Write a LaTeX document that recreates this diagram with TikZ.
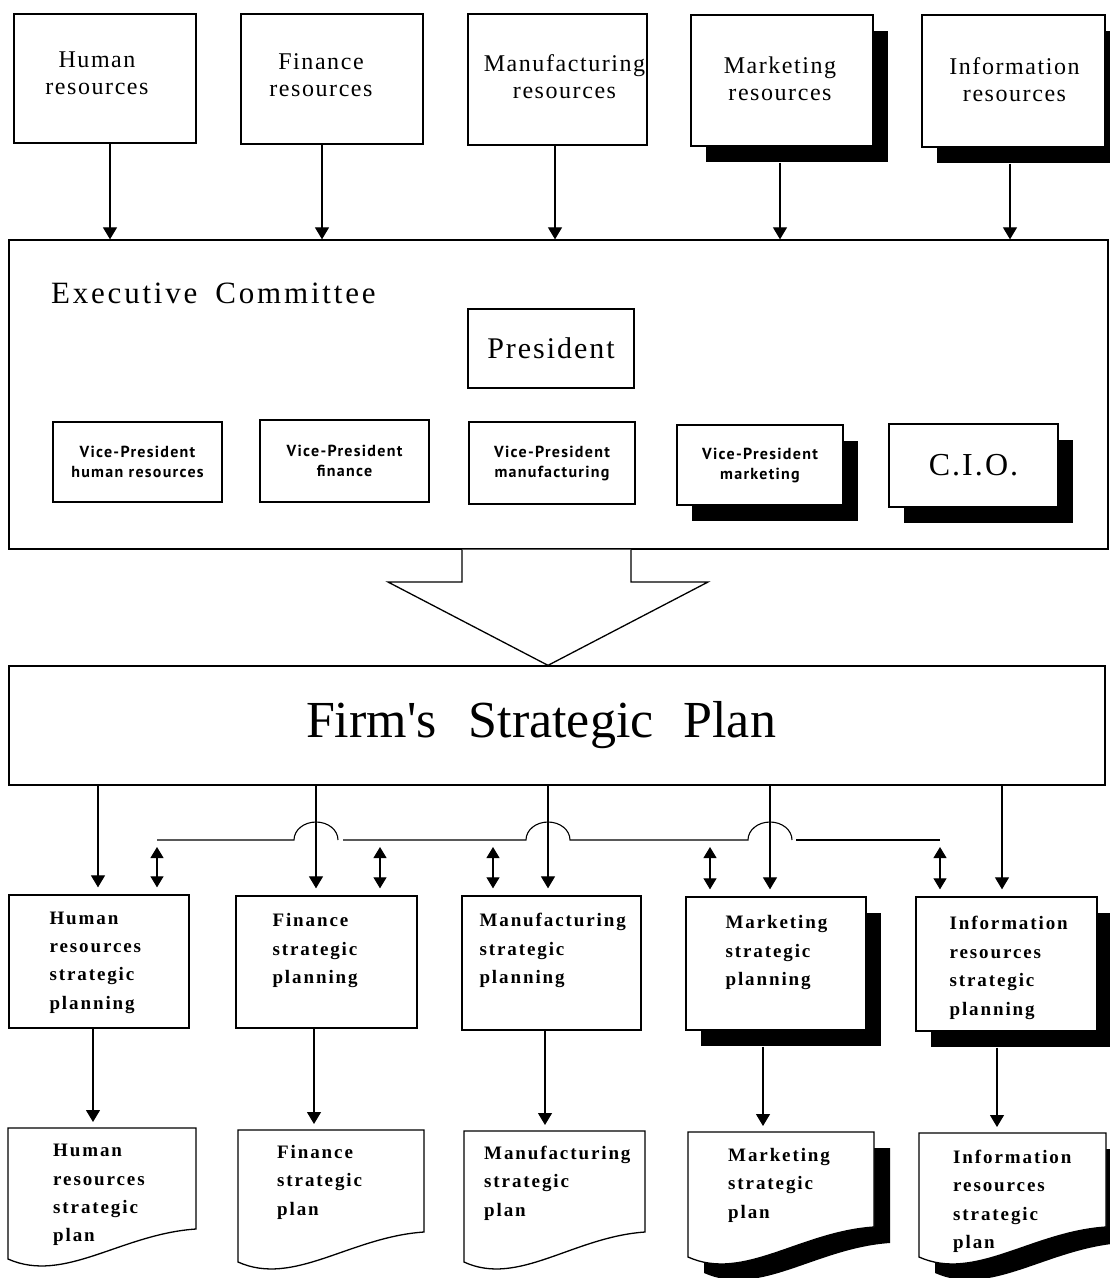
\documentclass[tikz,border=0pt]{standalone}
\usepackage{fontspec}
\newfontfamily\vpfont[LetterSpace=8]{PT Sans}
\newfontfamily\topfont[LetterSpace=6.5]{Liberation Serif}
\newfontfamily\ecfont[LetterSpace=9]{Liberation Serif}
\newfontfamily\bigfont{Liberation Serif}
\newfontfamily\labfont[LetterSpace=10]{Liberation Serif}
\usetikzlibrary{arrows.meta,shadows}
\newcommand\mydoc[5]{% name, x0, ytop, width, yright
  \coordinate (#1) at ({#2+#4/2},#3);
  \draw[docline] (#2,#3) -- ({#2+#4},#3) -- ({#2+#4},#5)
    .. controls ({#2+0.6*#4},{#5+5}) and ({#2+0.3*#4},{#5+55}) .. (#2,{#5+30}) -- cycle;}
\newcommand\mydocshadow[5]{%
  \fill[black] ({#2+16},{#3+16}) -- ({#2+#4+16},{#3+16}) -- ({#2+#4+16},{#5+16})
    .. controls ({#2+0.6*#4+16},{#5+21}) and ({#2+0.3*#4+16},{#5+71}) .. ({#2+16},{#5+46}) -- cycle;}
\begin{document}
\begin{tikzpicture}[x=1pt,y=-1pt,
  box/.style={draw, line width=1.3pt, fill=white, inner sep=0pt, align=center},
  shad/.style={general shadow={fill=black, shadow xshift=15pt, shadow yshift=-16pt}},
  docline/.style={draw, line width=1.3pt, fill=white},
  arr/.style={line width=1.1pt, -{Triangle[width=14pt,length=12pt]}},
  darr/.style={line width=1.1pt, {Triangle[width=13pt,length=11pt]}-{Triangle[width=13pt,length=11pt]}},
  bus/.style={line width=1.1pt},
  toplab/.style={inner sep=0pt, align=center, font=\topfont\fontsize{24}{27}\selectfont},
  vpf/.style={font=\vpfont\bfseries\fontsize{16}{20}\selectfont},
  lab/.style={inner sep=0pt, align=left, anchor=north west,
    font=\labfont\bfseries\fontsize{19}{28.4}\selectfont}]
\useasboundingbox (0,0) rectangle (1110,1278);

% top resource boxes
\node[box, minimum width=182pt, minimum height=129pt] (hr) at (105,78.5) {};
\node[box, minimum width=182pt, minimum height=130pt] (fin) at (332,79) {};
\node[box, minimum width=179pt, minimum height=131pt] (man) at (557.5,79.5) {};
\node[box, shad, minimum width=182pt, minimum height=131pt] (mkt) at (782,80.5) {};
\node[box, shad, minimum width=183pt, minimum height=132pt] (inf) at (1013.5,81) {};
\node[toplab] (hrt) at ([xshift=-8pt,yshift=5pt]hr.center) {Human\\resources};
\node[toplab] (fint) at ([xshift=-11pt,yshift=4pt]fin.center) {Finance\\resources};
\node[toplab] (mant) at ([xshift=7pt,yshift=3pt]man.center) {Manufacturing\\resources};
\node[toplab] (mktt) at ([xshift=-2pt,yshift=2pt]mkt.center) {Marketing\\resources};
\node[toplab] (inft) at ([xshift=1pt,yshift=1pt]inf.center) {Information\\resources};

% executive committee
\node[box, minimum width=1099pt, minimum height=309pt] (ec) at (558.5,394.5) {};
\node[anchor=base west, inner sep=0pt, font=\ecfont\fontsize{31}{34}\selectfont] (ect) at (51,303) {Executive\hspace{18pt}Committee};
\node[box, font=\topfont\fontsize{30}{32}\selectfont, minimum width=166pt, minimum height=79pt] (pres) at (551,348.5) {President};
\node[box, vpf, minimum width=169pt, minimum height=80pt] (vp1) at (137.5,462) {Vice-President\\human resources};
\node[box, vpf, minimum width=169pt, minimum height=82pt] (vp2) at (344.5,461) {Vice-President\\finance};
\node[box, vpf, minimum width=166pt, minimum height=82pt] (vp3) at (552,463) {Vice-President\\manufacturing};
\node[box, vpf, shad, minimum width=166pt, minimum height=80pt] (vp4) at (760,465) {Vice-President\\marketing};
\node[box, shad, font=\topfont\fontsize{32}{34}\selectfont, minimum width=169pt, minimum height=83pt] (cio) at (973.5,465.5) {C.I.O.};

% arrows into executive committee
\draw[arr] ([xshift=5pt]hr.south) -- (110,0 |- ec.north);
\draw[arr] ([xshift=-10pt]fin.south) -- (322,0 |- ec.north);
\draw[arr] ([xshift=-2.5pt]man.south) -- (555,0 |- ec.north);
\draw[arr] ([xshift=-2pt,yshift=-16pt]mkt.south) -- (780,0 |- ec.north);
\draw[arr] ([xshift=-3.5pt,yshift=-16pt]inf.south) -- (1010,0 |- ec.north);

% firm's strategic plan
\node[box, font=\bigfont\fontsize{52}{58}\selectfont, minimum width=1096pt, minimum height=119pt] (fsp) at (557,725.5) {\hspace{-32pt}Firm's\hspace{32pt}Strategic\hspace{30pt}Plan};

% hollow arrow
\draw[line width=1.3pt, line join=miter, fill=white]
  (462,0 |- ec.south) -- (462,582) -- (388,582) -- (548,0 |- fsp.north) -- (708,582) -- (631,582) -- (631,0 |- ec.south);

% bottom planning boxes
\node[box, minimum width=180pt, minimum height=133pt] (b1) at (99,961.5) {};
\node[box, minimum width=181pt, minimum height=132pt] (b2) at (326.5,962) {};
\node[box, minimum width=179pt, minimum height=134pt] (b3) at (551.5,963) {};
\node[box, shad, minimum width=180pt, minimum height=133pt] (b4) at (776,963.5) {};
\node[box, shad, minimum width=181pt, minimum height=134pt] (b5) at (1006.5,964) {};
\node[lab] (b1t) at ([xshift=41pt,yshift=-17pt]b1.north west) {Human\\resources\\strategic\\planning};
\node[lab] (b2t) at ([xshift=37pt,yshift=-18pt]b2.north west) {Finance\\strategic\\planning};
\node[lab] (b3t) at ([xshift=18pt,yshift=-18pt]b3.north west) {Manufacturing\\strategic\\planning};
\node[lab] (b4t) at ([xshift=40pt,yshift=-19pt]b4.north west) {Marketing\\strategic\\planning};
\node[lab] (b5t) at ([xshift=34pt,yshift=-20pt]b5.north west) {Information\\resources\\strategic\\planning};

% arrows from plan to planning boxes
\draw[arr, shorten >=7pt] (98,0 |- fsp.south) -- (98,0 |- b1.north);
\draw[arr, shorten >=7pt] (316,0 |- fsp.south) -- (316,0 |- b2.north);
\draw[arr, shorten >=7pt] (548,0 |- fsp.south) -- (548,0 |- b3.north);
\draw[arr, shorten >=7pt] (770,0 |- fsp.south) -- (770,0 |- b4.north);
\draw[arr, shorten >=7pt] (1002,0 |- fsp.south) -- (1002,0 |- b5.north);

% coordination bus with hops
\coordinate (j1) at (157,840);
\coordinate (j2) at (380,840);
\coordinate (j3) at (493,840);
\coordinate (j4) at (710,840);
\coordinate (j5) at (940,840);
\draw[bus] (j1) -- (294,840) arc[start angle=180,end angle=360,x radius=22,y radius=18];
\draw[bus] (343,840) -- (526,840) arc[start angle=180,end angle=360,x radius=22,y radius=18]
  -- (748,840) arc[start angle=180,end angle=360,x radius=22,y radius=18];
\draw[bus] (796,840) -- (j5);
\draw[darr, shorten <=7pt, shorten >=7pt] (j1) -- (j1 |- b1.north);
\draw[darr, shorten <=7pt, shorten >=7pt] (j2) -- (j2 |- b2.north);
\draw[darr, shorten <=7pt, shorten >=7pt] (j3) -- (j3 |- b3.north);
\draw[darr, shorten <=7pt, shorten >=7pt] (j4) -- (j4 |- b4.north);
\draw[darr, shorten <=7pt, shorten >=7pt] (j5) -- (j5 |- b5.north);

% documents
\mydoc{d1}{8}{1128}{188}{1229}
\mydoc{d2}{238}{1130}{186}{1232}
\mydoc{d3}{464}{1131}{181}{1232}
\mydocshadow{d4}{688}{1132}{186}{1227}
\mydoc{d4}{688}{1132}{186}{1227}
\mydocshadow{d5}{919}{1133}{187}{1227}
\mydoc{d5}{919}{1133}{187}{1227}
\node[lab] (d1t) at (53,1144) {Human\\resources\\strategic\\plan};
\node[lab] (d2t) at (277,1145) {Finance\\strategic\\plan};
\node[lab] (d3t) at (484,1146) {Manufacturing\\strategic\\plan};
\node[lab] (d4t) at (728,1148) {Marketing\\strategic\\plan};
\node[lab] (d5t) at (953,1150) {Information\\resources\\strategic\\plan};

% arrows to documents
\draw[arr, shorten >=6pt] (93,0 |- b1.south) -- (93,0 |- d1);
\draw[arr, shorten >=6pt] (314,0 |- b2.south) -- (314,0 |- d2);
\draw[arr, shorten >=6pt] (545,0 |- b3.south) -- (545,0 |- d3);
\draw[arr, shorten >=6pt] ([yshift=-16pt]763,0 |- b4.south) -- (763,0 |- d4);
\draw[arr, shorten >=6pt] ([yshift=-16pt]997,0 |- b5.south) -- (997,0 |- d5);
\end{tikzpicture}
\end{document}
